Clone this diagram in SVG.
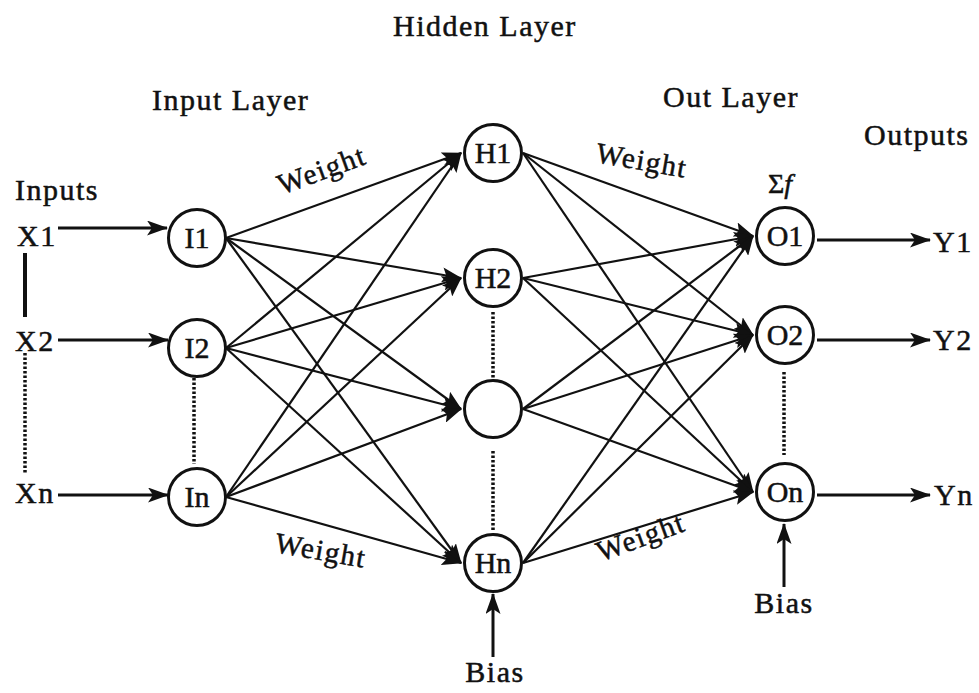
<svg xmlns="http://www.w3.org/2000/svg" width="979" height="693" viewBox="0 0 979 693">
<style>
  text { font-family: "Liberation Serif", "Times New Roman", serif; fill: #111; stroke: #111; stroke-width: 0.5px; font-size: 30px; letter-spacing: 1.5px; }
  .lbl { text-anchor: middle; letter-spacing: 0; }
  .node circle { fill: #fff; stroke: #111; stroke-width: 3; }
  .c { stroke: #111; stroke-width: 2.2; fill: none; marker-end: url(#ah); }
  .io { stroke: #111; stroke-width: 3; fill: none; marker-end: url(#ah2); }
  .dot { stroke: #111; stroke-width: 3.5; stroke-dasharray: 2.5 2; fill: none; }
  .w { font-size: 29px; text-anchor: middle; }
</style>
<defs>
  <marker id="ah" markerUnits="userSpaceOnUse" markerWidth="20" markerHeight="15" refX="19" refY="7.5" orient="auto">
    <path d="M0,0 L20,7.5 L0,15 L4,7.5 z" fill="#111"/>
  </marker>
  <marker id="ah2" markerUnits="userSpaceOnUse" markerWidth="21" markerHeight="15" refX="20" refY="7.5" orient="auto">
    <path d="M0,0 L21,7.5 L0,15 L5,7.5 z" fill="#111"/>
  </marker>
</defs>
<rect width="979" height="693" fill="#fff"/>

<!-- titles -->
<text x="393" y="36">Hidden Layer</text>
<text x="152" y="110">Input Layer</text>
<text x="663" y="107">Out Layer</text>
<text x="864" y="145">Outputs</text>
<text x="15" y="200">Inputs</text>

<!-- input / output labels -->
<text x="17" y="246">X1</text>
<text x="15" y="351">X2</text>
<text x="15" y="503">Xn</text>
<text x="933" y="252">Y1</text>
<text x="933" y="350">Y2</text>
<text x="934" y="505">Yn</text>
<text x="495" y="682" class="lbl" style="letter-spacing:1.5px">Bias</text>
<text x="784" y="613" class="lbl" style="letter-spacing:1.5px">Bias</text>
<text x="768" y="193" style="font-size:28px;letter-spacing:0">Σ<tspan font-style="italic">f</tspan></text>

<!-- weight labels -->
<text class="w" transform="translate(325,179) rotate(-20)">Weight</text>
<text class="w" transform="translate(319,560) rotate(10)">Weight</text>
<text class="w" transform="translate(640,170) rotate(10)">Weight</text>
<text class="w" transform="translate(644,546) rotate(-20)">Weight</text>

<g id="connectors">
  <line class="io" x1="58" y1="228" x2="167" y2="228"/>
  <line class="io" x1="58" y1="340" x2="168" y2="340"/>
  <line class="io" x1="58" y1="495" x2="168" y2="495"/>
  <line class="io" x1="817" y1="240" x2="930" y2="240"/>
  <line class="io" x1="817" y1="340" x2="930" y2="340"/>
  <line class="io" x1="817" y1="495" x2="930" y2="495"/>
  <line class="io" x1="493" y1="657" x2="493" y2="594"/>
  <line class="io" x1="784" y1="587" x2="784" y2="524"/>
  <line x1="25" y1="253" x2="25" y2="317" stroke="#111" stroke-width="4"/>
  <line class="dot" x1="25" y1="353" x2="25" y2="473"/>
  <line class="dot" x1="194" y1="378" x2="194" y2="464"/>
  <line class="dot" x1="493" y1="312" x2="493" y2="379"/>
  <line class="dot" x1="493" y1="451" x2="493" y2="530"/>
  <line class="dot" x1="784" y1="372" x2="784" y2="455"/>
  <line class="c" x1="226" y1="238" x2="461" y2="153"/>
  <line class="c" x1="226" y1="238" x2="461" y2="278"/>
  <line class="c" x1="226" y1="238" x2="461" y2="409"/>
  <line class="c" x1="226" y1="238" x2="461" y2="563"/>
  <line class="c" x1="226" y1="348" x2="461" y2="153"/>
  <line class="c" x1="226" y1="348" x2="461" y2="278"/>
  <line class="c" x1="226" y1="348" x2="461" y2="409"/>
  <line class="c" x1="226" y1="348" x2="461" y2="563"/>
  <line class="c" x1="226" y1="497" x2="461" y2="153"/>
  <line class="c" x1="226" y1="497" x2="461" y2="278"/>
  <line class="c" x1="226" y1="497" x2="461" y2="409"/>
  <line class="c" x1="226" y1="497" x2="461" y2="563"/>
  <line class="c" x1="523" y1="153" x2="753" y2="236"/>
  <line class="c" x1="523" y1="153" x2="753" y2="335"/>
  <line class="c" x1="523" y1="153" x2="753" y2="492"/>
  <line class="c" x1="523" y1="278" x2="753" y2="236"/>
  <line class="c" x1="523" y1="278" x2="753" y2="335"/>
  <line class="c" x1="523" y1="278" x2="753" y2="492"/>
  <line class="c" x1="523" y1="409" x2="753" y2="236"/>
  <line class="c" x1="523" y1="409" x2="753" y2="335"/>
  <line class="c" x1="523" y1="409" x2="753" y2="492"/>
  <line class="c" x1="523" y1="563" x2="753" y2="236"/>
  <line class="c" x1="523" y1="563" x2="753" y2="335"/>
  <line class="c" x1="523" y1="563" x2="753" y2="492"/>
</g>

<g id="I1" class="node"><circle cx="197" cy="238" r="28.5"/><text class="lbl" x="197" y="248">I1</text></g>
<g id="I2" class="node"><circle cx="197" cy="348" r="28.5"/><text class="lbl" x="197" y="358">I2</text></g>
<g id="In" class="node"><circle cx="197" cy="497" r="28.5"/><text class="lbl" x="197" y="507">In</text></g>
<g id="H1" class="node"><circle cx="493" cy="153" r="28.5"/><text class="lbl" x="493" y="163">H1</text></g>
<g id="H2" class="node"><circle cx="493" cy="278" r="28.5"/><text class="lbl" x="493" y="288">H2</text></g>
<g id="H3" class="node"><circle cx="493" cy="409" r="28.5"/></g>
<g id="Hn" class="node"><circle cx="493" cy="563" r="28.5"/><text class="lbl" x="493" y="573">Hn</text></g>
<g id="O1" class="node"><circle cx="785" cy="236" r="28.5"/><text class="lbl" x="785" y="246">O1</text></g>
<g id="O2" class="node"><circle cx="785" cy="335" r="28.5"/><text class="lbl" x="785" y="345">O2</text></g>
<g id="On" class="node"><circle cx="785" cy="492" r="28.5"/><text class="lbl" x="785" y="502">On</text></g>
</svg>
